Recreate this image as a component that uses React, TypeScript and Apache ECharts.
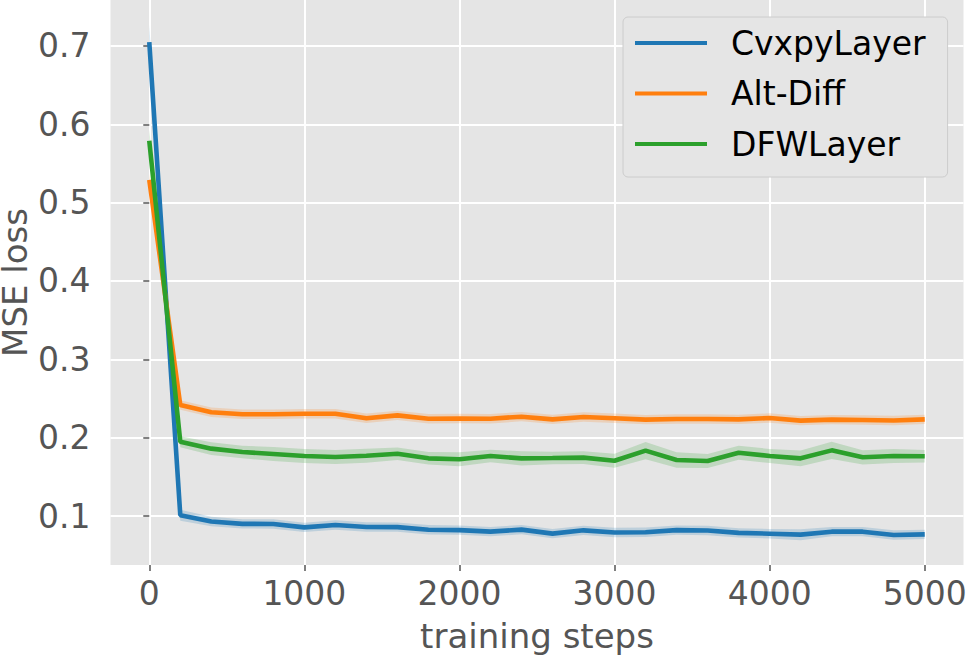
import React, { useEffect, useRef } from "react";
import * as echarts from "echarts";

const steps = [0, 200, 400, 600, 800, 1000, 1200, 1400, 1600, 1800, 2000, 2200, 2400, 2600, 2800, 3000, 3200, 3400, 3600, 3800, 4000, 4200, 4400, 4600, 4800, 5000];

const cvxpyLayer = [0.705, 0.101, 0.093, 0.09, 0.0898, 0.0855, 0.0885, 0.086, 0.0858, 0.0825, 0.082, 0.08, 0.0826, 0.0775, 0.0817, 0.079, 0.0792, 0.082, 0.0815, 0.0785, 0.0774, 0.0762, 0.08, 0.08, 0.0757, 0.0766];
const altDiff = [0.529, 0.2417, 0.2324, 0.2298, 0.2298, 0.2306, 0.2306, 0.2247, 0.2285, 0.2242, 0.2244, 0.2242, 0.2268, 0.2234, 0.2264, 0.2247, 0.223, 0.2238, 0.2238, 0.2234, 0.2251, 0.2217, 0.223, 0.2225, 0.222, 0.2234];
const dfwLayer = [0.579, 0.1949, 0.186, 0.1817, 0.1792, 0.1766, 0.1753, 0.177, 0.1795, 0.1736, 0.1724, 0.1766, 0.1736, 0.174, 0.1745, 0.1706, 0.1834, 0.1715, 0.1702, 0.1808, 0.1766, 0.1736, 0.1838, 0.1749, 0.1766, 0.1762];

// half-widths of the shaded confidence bands
const cvxpySpread = [0.022, 0.007, 0.006, 0.006, 0.006, 0.006, 0.006, 0.006, 0.006, 0.006, 0.006, 0.006, 0.006, 0.006, 0.006, 0.006, 0.006, 0.006, 0.006, 0.006, 0.006, 0.007, 0.006, 0.006, 0.006, 0.006];
const altDiffSpread = [0.008, 0.006, 0.006, 0.006, 0.006, 0.006, 0.006, 0.006, 0.006, 0.006, 0.006, 0.006, 0.006, 0.006, 0.006, 0.006, 0.006, 0.006, 0.006, 0.006, 0.006, 0.006, 0.006, 0.006, 0.006, 0.006];
const dfwSpread = [0.014, 0.007, 0.008, 0.008, 0.009, 0.009, 0.009, 0.009, 0.008, 0.008, 0.009, 0.008, 0.009, 0.008, 0.008, 0.009, 0.011, 0.01, 0.009, 0.009, 0.009, 0.01, 0.011, 0.009, 0.009, 0.008];

const xTicks = [0, 1000, 2000, 3000, 4000, 5000];
const yTicks = [0.1, 0.2, 0.3, 0.4, 0.5, 0.6, 0.7];

const names = ["CvxpyLayer", "Alt-Diff", "DFWLayer"];
const colors = ["#1f77b4", "#ff7f0e", "#2ca02c"];

const FONT = "DejaVu Sans";

export default function App() {
  const ref = useRef<HTMLDivElement>(null);

  useEffect(() => {
    if (!ref.current) return;
    const chart = echarts.init(ref.current, null, { renderer: "svg" });
    const means = [cvxpyLayer, altDiff, dfwLayer];
    const spreads = [cvxpySpread, altDiffSpread, dfwSpread];

    const bandSeries = means.map((m, k) => ({
      type: "custom",
      name: names[k] + " band",
      silent: true,
      z: 2,
      data: [[0, 0]],
      renderItem: (params: any, api: any) => {
        const up = steps.map((s, i) => api.coord([s, m[i] + spreads[k][i]]));
        const lo = steps.map((s, i) => api.coord([s, m[i] - spreads[k][i]])).reverse();
        return {
          type: "polygon",
          shape: { points: up.concat(lo) },
          style: { fill: colors[k], opacity: 0.2, stroke: "none" },
        };
      },
    }));

    const lineSeries = means.map((m, k) => ({
      type: "line",
      name: names[k],
      data: steps.map((s, i) => [s, m[i]]),
      symbol: "none",
      showSymbol: false,
      z: 3,
      lineStyle: { color: colors[k], width: 4.6 },
      itemStyle: { color: colors[k] },
    }));

    chart.setOption({
      animation: false,
      textStyle: { fontFamily: FONT },
      grid: {
        left: 110.5,
        right: 4.5,
        top: 0,
        bottom: 90,
        show: true,
        backgroundColor: "#E5E5E5",
        borderWidth: 0,
        containLabel: false,
        outerBoundsMode: "none",
      },
      legend: {
        data: names.map((n) => ({ name: n, icon: "rect" })),
        orient: "vertical",
        left: 623,
        top: 17,
        itemWidth: 72,
        itemHeight: 4,
        itemGap: 10.5,
        padding: [6, 22, 13, 12],
        backgroundColor: "#E5E5E5",
        borderColor: "#CCCCCC",
        borderWidth: 1,
        borderRadius: 5,
        textStyle: {
          fontFamily: FONT,
          fontSize: 33,
          color: "#000000",
          lineHeight: 40,
          padding: [0, 0, 0, 19],
        },
      },
      xAxis: {
        type: "value",
        min: -250,
        max: 5250,
        name: "training steps",
        nameLocation: "middle",
        nameGap: 54,
        nameMoveOverlap: false,
        nameTextStyle: { fontFamily: FONT, fontSize: 34, color: "#555555" },
        axisLine: { show: false },
        axisTick: { show: true, customValues: xTicks, length: 6, lineStyle: { color: "#555555", width: 1.5 } },
        axisLabel: {
          customValues: xTicks,
          fontFamily: FONT,
          fontSize: 33,
          color: "#555555",
          margin: 12,
          formatter: (v: number) => String(Math.round(v)),
        },
        splitLine: { show: true, lineStyle: { color: "#FFFFFF", width: 2 } },
      },
      yAxis: {
        type: "value",
        min: 0.03745,
        max: 0.7587,
        name: "MSE loss",
        nameLocation: "middle",
        nameGap: 81,
        nameMoveOverlap: false,
        nameTextStyle: { fontFamily: FONT, fontSize: 34, color: "#555555", lineHeight: 30 },
        axisLine: { show: false },
        axisTick: { show: true, customValues: yTicks, length: 6, lineStyle: { color: "#555555", width: 1.5 } },
        axisLabel: {
          customValues: yTicks,
          fontFamily: FONT,
          fontSize: 33,
          color: "#555555",
          margin: 20,
          formatter: (v: number) => v.toFixed(1),
        },
        splitLine: { show: true, lineStyle: { color: "#FFFFFF", width: 2 } },
      },
      series: [...bandSeries, ...lineSeries],
    });

    return () => chart.dispose();
  }, []);

  return (
    <div
      ref={ref}
      style={{ position: "fixed", left: 0, top: 0, width: 968, height: 655, background: "#FFFFFF" }}
    />
  );
}
